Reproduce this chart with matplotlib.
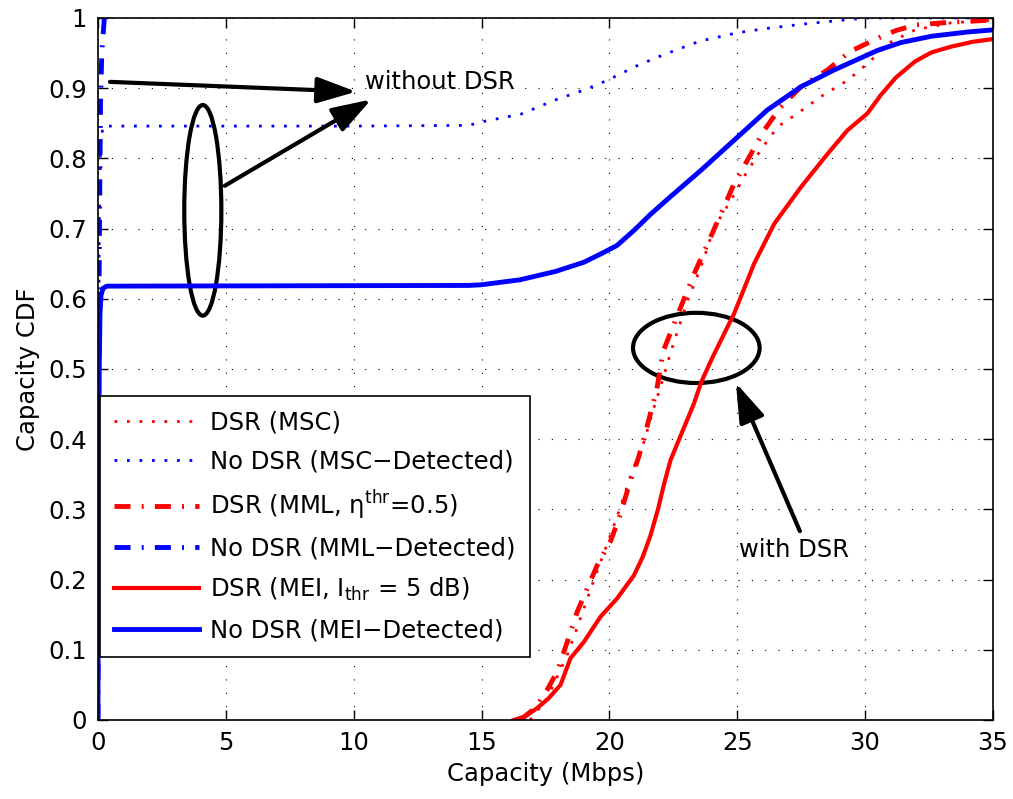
import numpy as np
import matplotlib.pyplot as plt
from matplotlib.patches import Ellipse

plt.rcParams['font.family'] = ['DejaVu Sans']
plt.rcParams['mathtext.fontset'] = 'dejavusans'

# DSR (MSC) - red dotted
msc_x = [16.9, 17.57, 18.35, 18.87, 19.4, 19.9, 20.4, 20.85, 21.3, 21.7, 22.08, 22.4,
         23.06, 23.58, 24.1, 24.75, 25.27, 25.92, 26.58, 27.36, 28.27, 29.31, 30.09,
         30.97, 31.95, 33.35, 35.0]
msc_y = [0.0, 0.031, 0.092, 0.145, 0.2, 0.249, 0.3, 0.35, 0.39, 0.44, 0.484, 0.524,
         0.598, 0.645, 0.702, 0.74, 0.774, 0.812, 0.845, 0.864, 0.888, 0.911, 0.935,
         0.965, 0.983, 0.993, 0.997]

# No DSR (MSC-Detected) - blue dotted
msc_det_x = [0.0, 0.02, 0.05, 0.1, 0.2, 5.0, 10.0, 14.5, 15.0, 16.54, 17.94, 19.06,
             19.97, 21.02, 22.14, 23.54, 25.01, 26.34, 27.75, 29.15, 30.0, 35.0]
msc_det_y = [0.0, 0.4, 0.7, 0.82, 0.846, 0.846, 0.846, 0.847, 0.852, 0.863, 0.884, 0.898,
             0.912, 0.931, 0.948, 0.967, 0.979, 0.986, 0.992, 0.997, 1.0, 1.0]

# DSR (MML) - red dash-dot
mml_x = [16.5, 17.11, 17.6, 17.96, 18.35, 18.74, 19.13, 19.52, 20.05, 20.4, 20.8, 21.15,
         21.45, 21.85, 22.1, 22.8, 23.32, 23.9, 24.36, 24.88, 25.47, 26.05, 26.7, 27.49,
         28.53, 29.4, 30.55, 31.2, 31.95, 33.35, 35.0]
mml_y = [0.0, 0.017, 0.045, 0.069, 0.111, 0.154, 0.187, 0.22, 0.255, 0.29, 0.338, 0.375,
         0.415, 0.47, 0.525, 0.589, 0.636, 0.683, 0.721, 0.764, 0.802, 0.84, 0.873, 0.902,
         0.926, 0.952, 0.972, 0.982, 0.99, 0.994, 0.997]

# No DSR (MML-Detected) - blue dash-dot
mml_det_x = [0.0, 0.01, 0.03, 0.05, 0.07, 0.1, 0.15, 0.25]
mml_det_y = [0.0, 0.2, 0.5, 0.65, 0.75, 0.88, 0.95, 1.0]

# DSR (MEI) - red solid
mei_x = [16.26, 16.7, 17.18, 17.6, 18.09, 18.48, 19.0, 19.65, 20.3, 20.96, 21.3, 21.6,
         21.9, 22.13, 22.39, 22.9, 23.3, 23.6, 24.04, 24.88, 25.66, 26.45, 27.49, 28.5,
         29.31, 30.09, 30.61, 31.2, 31.95, 32.6, 33.35, 34.2, 35.0]
mei_y = [0.0, 0.005, 0.017, 0.03, 0.05, 0.088, 0.111, 0.147, 0.173, 0.206, 0.232, 0.262,
         0.3, 0.335, 0.37, 0.415, 0.45, 0.482, 0.517, 0.579, 0.65, 0.707, 0.759, 0.805,
         0.84, 0.864, 0.89, 0.915, 0.938, 0.951, 0.959, 0.966, 0.97]

# No DSR (MEI-Detected) - blue solid
mei_det_x = [0.0, 0.02, 0.05, 0.08, 0.12, 0.2, 0.35, 14.5, 15.0, 16.5, 17.9, 19.0, 19.67,
             20.3, 20.98, 21.6, 22.28, 23.58, 24.88, 26.18, 27.49, 28.79, 29.83, 30.5,
             31.4, 32.6, 34.0, 35.0]
mei_det_y = [0.0, 0.3, 0.5, 0.58, 0.605, 0.615, 0.618, 0.619, 0.62, 0.627, 0.639, 0.652,
             0.664, 0.676, 0.698, 0.72, 0.742, 0.783, 0.826, 0.869, 0.902, 0.926, 0.943,
             0.954, 0.965, 0.974, 0.98, 0.983]

labels = ['DSR (MSC)',
          'No DSR (MSC\u2212Detected)',
          'DSR (MML, \u03b7$^{\\mathrm{thr}}$=0.5)',
          'No DSR (MML\u2212Detected)',
          'DSR (MEI, I$_{\\mathrm{thr}}$ = 5 dB)',
          'No DSR (MEI\u2212Detected)']

fs = 17.5
fig = plt.figure(figsize=(10.13, 7.99), dpi=100)
ax = fig.add_axes([0.0967, 0.0989, 0.8835, 0.8786])

dot = (0, (1, 3.5))
dashdot = (0, (3.3, 2.3, 0.4, 2.3))
ax.plot(msc_x, msc_y, color='red', lw=2, ls=dot, label=labels[0])
ax.plot(msc_det_x, msc_det_y, color='blue', lw=2, ls=dot, label=labels[1])
ax.plot(mml_x, mml_y, color='red', lw=3.5, ls=dashdot, label=labels[2])
ax.plot(mml_det_x, mml_det_y, color='blue', lw=3.5, ls=dashdot, label=labels[3])
ax.plot(mei_x, mei_y, color='red', lw=3, label=labels[4])
ax.plot(mei_det_x, mei_det_y, color='blue', lw=3.5, label=labels[5])

ax.set_xlim(0, 35)
ax.set_ylim(0, 1)
ax.set_xticks(np.arange(0, 36, 5))
ax.set_yticks(np.arange(0, 1.01, 0.1))
ax.set_yticklabels(['0', '0.1', '0.2', '0.3', '0.4', '0.5', '0.6', '0.7', '0.8', '0.9', '1'])
ax.tick_params(direction='in', top=True, right=True, length=7, width=1,
               labelsize=fs, pad=8)
ax.grid(True, color='k', lw=0.8, ls=(0, (1, 11)))
for s in ax.spines.values():
    s.set_linewidth(1.2)

ax.set_xlabel('Capacity (Mbps)', fontsize=fs, labelpad=5)
ax.set_ylabel('Capacity CDF', fontsize=fs, labelpad=6)

leg = ax.legend(loc='lower left', bbox_to_anchor=(0.002, 0.09), borderaxespad=0,
                fontsize=fs, fancybox=False, framealpha=1, edgecolor='k',
                handlelength=3.5, handletextpad=0.45, labelspacing=0.62, borderpad=0.6)
leg.get_frame().set_linewidth(1.2)

# annotations
arrow = dict(arrowstyle='-|>,head_length=1.2,head_width=0.4', lw=3, color='k',
             shrinkA=0, shrinkB=0, mutation_scale=20)
ax.annotate('', xy=(10.1, 0.895), xytext=(0.47, 0.909), arrowprops=arrow)
ax.annotate('', xy=(10.69, 0.884), xytext=(4.96, 0.761), arrowprops=arrow)
ax.annotate('', xy=(24.95, 0.48), xytext=(27.45, 0.269), arrowprops=arrow)
ax.text(10.43, 0.909, 'without DSR', fontsize=fs, va='center', ha='left')
ax.text(25.08, 0.242, 'with DSR', fontsize=fs, va='center', ha='left')

ax.add_patch(Ellipse((4.1, 0.726), 1.45, 0.3, fill=False, lw=3, color='k'))
ax.add_patch(Ellipse((23.4, 0.53), 4.95, 0.1, fill=False, lw=3, color='k'))

fig.savefig('out.png', dpi=100)
